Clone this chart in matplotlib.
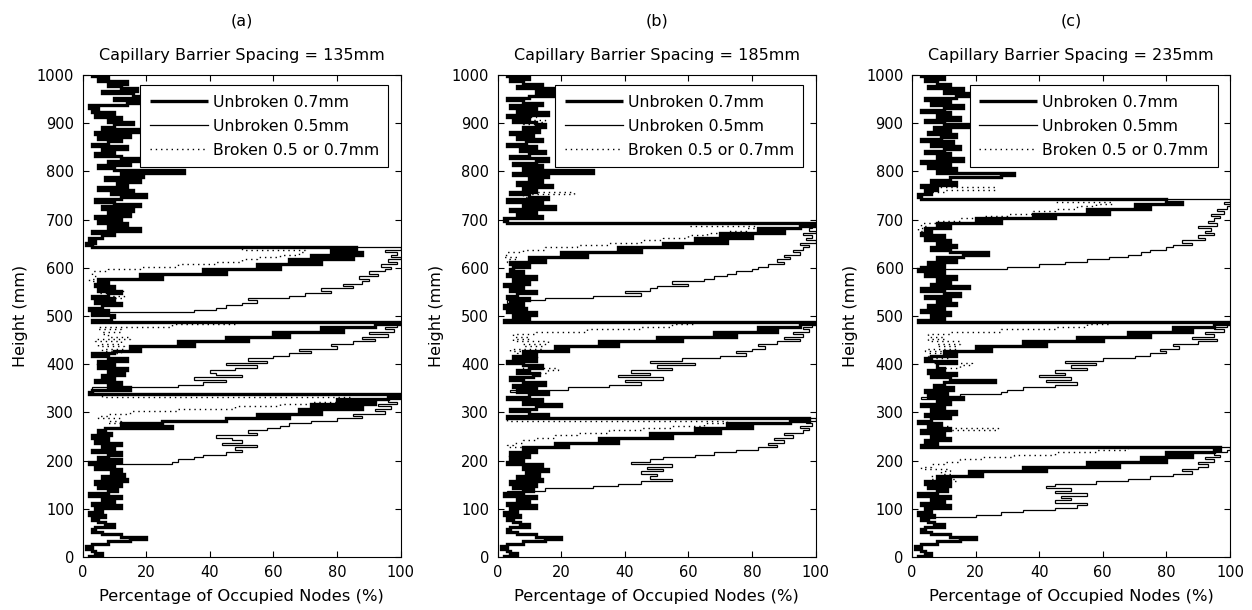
import numpy as np
import matplotlib
matplotlib.use('Agg')
import matplotlib.pyplot as plt

# heights sampled every 5 mm
height = np.arange(0, 1001, 5)

panel_tags = ['(a)', '(b)', '(c)']
spacings = [135, 185, 235]
series_names = ['Unbroken 0.7mm', 'Unbroken 0.5mm', 'Broken 0.5 or 0.7mm']

# background profile (all runs overlap here), 0..1000 mm
bg_a = [2, 6, 4, 3, 1, 3, 8, 15, 20, 12, 6, 3, 4, 10, 7, 5, 3, 7, 2, 6,
        4, 12, 3, 10, 6, 12, 2, 8, 11, 5, 12, 4, 14, 6, 13, 9, 12, 4, 10, 2,
        12, 5, 8, 12, 3, 10, 6, 12, 4, 8, 3, 9, 5, 7, 28, 12, 10, 6, 8, 4,
        3, 5, 4, 8, 6, 10, 3, 6, 2, 3, 15, 8, 12, 4, 10, 6, 13, 8, 14, 5,
        10, 5, 14, 8, 3, 12, 6, 13, 4, 10, 6, 12, 5, 8, 6, 10, 4, 8, 3, 9,
        10, 3, 8, 2, 6, 12, 4, 10, 3, 8, 12, 5, 10, 4, 8, 2, 5, 3, 6, 2,
        4, 3, 6, 2, 5, 3, 4, 2, 3, 3, 1, 4, 2, 6, 10, 3, 18, 8, 14, 5,
        12, 4, 15, 8, 16, 6, 18, 10, 4, 12, 20, 9, 16, 5, 14, 11, 18, 7, 19, 12,
        32, 10, 5, 15, 8, 18, 12, 4, 10, 6, 14, 3, 8, 12, 5, 15, 4, 18, 6, 10,
        16, 8, 12, 4, 10, 3, 5, 2, 14, 18, 10, 20, 16, 6, 17, 12, 8, 14, 5, 8,
        3]
bg_b = [2, 6, 4, 3, 1, 3, 8, 15, 20, 12, 6, 3, 4, 10, 7, 5, 3, 7, 2, 6,
        4, 12, 3, 10, 6, 12, 2, 8, 11, 5, 12, 4, 14, 6, 13, 9, 16, 8, 14, 3,
        8, 4, 10, 6, 12, 5, 8, 3, 10, 5, 7, 4, 9, 3, 6, 2, 5, 3, 3, 16,
        10, 4, 12, 20, 8, 14, 3, 10, 16, 6, 12, 5, 15, 8, 4, 11, 13, 6, 10, 14,
        8, 3, 12, 6, 10, 4, 14, 8, 5, 10, 6, 12, 4, 8, 5, 10, 6, 9, 2, 10,
        5, 12, 3, 9, 2, 8, 4, 10, 3, 6, 12, 4, 8, 2, 10, 5, 12, 3, 8, 4,
        5, 4, 8, 3, 6, 2, 5, 3, 6, 2, 4, 3, 5, 2, 4, 3, 5, 2, 3, 3,
        2, 14, 6, 12, 4, 18, 8, 14, 3, 16, 10, 4, 12, 8, 17, 6, 14, 10, 16, 5,
        30, 8, 14, 5, 12, 16, 4, 10, 15, 7, 12, 3, 9, 14, 6, 11, 4, 13, 8, 15,
        12, 5, 10, 3, 16, 6, 12, 4, 14, 8, 3, 10, 20, 12, 18, 6, 14, 8, 4, 10,
        3]
bg_c = [2, 6, 4, 3, 1, 3, 8, 15, 20, 12, 6, 3, 4, 10, 7, 5, 3, 7, 2, 6,
        4, 12, 3, 10, 6, 12, 2, 8, 11, 5, 12, 4, 14, 6, 13, 9, 12, 4, 10, 2,
        8, 4, 10, 6, 12, 5, 3, 8, 4, 12, 6, 10, 3, 12, 5, 9, 2, 6, 12, 4,
        14, 6, 10, 3, 12, 8, 16, 5, 11, 4, 13, 7, 10, 26, 12, 6, 14, 5, 10, 8,
        8, 14, 4, 12, 6, 10, 3, 8, 5, 10, 6, 12, 4, 8, 5, 10, 6, 9, 2, 10,
        6, 12, 3, 10, 5, 14, 8, 12, 4, 15, 10, 3, 18, 6, 12, 8, 14, 4, 10, 2,
        3, 10, 5, 14, 8, 16, 24, 12, 6, 14, 8, 12, 4, 10, 3, 6, 2, 5, 3, 4,
        5, 3, 6, 2, 4, 3, 4, 2, 6, 3, 2, 6, 4, 8, 3, 14, 6, 12, 28, 32,
        8, 14, 5, 12, 3, 16, 8, 12, 4, 10, 15, 6, 13, 3, 9, 14, 5, 12, 7, 18,
        10, 4, 15, 8, 12, 3, 10, 16, 6, 12, 4, 14, 20, 10, 16, 5, 12, 8, 4, 10,
        3]

# wetting fronts below each barrier: start height (mm) -> values every 5 mm
thick_a = {275: [12, 25, 45, 65, 55, 75, 68, 88, 72, 92, 80, 96, 100],
           425: [10, 18, 15, 35, 30, 52, 45, 65, 60, 82, 75, 92, 100],
           575: [5, 25, 18, 45, 38, 62, 55, 75, 65, 85, 72, 88, 78, 86]}
thin_a = {190: [5, 28, 30, 35, 38, 45, 50, 48, 55, 44, 50, 47, 42, 55, 52,
                58, 62, 65, 72, 80, 88, 85, 95, 92, 97, 93, 99, 96, 100, 98],
          350: [3, 30, 38, 45, 35, 50, 42, 40, 48, 55, 45, 58, 52, 60, 65,
                72, 68, 80, 78, 85, 92, 88, 96, 90, 98, 95, 99, 100],
          505: [5, 35, 42, 45, 50, 55, 52, 65, 70, 78, 75, 85, 82, 88, 90,
                87, 93, 90, 95, 97, 94, 99, 96, 100, 97, 99, 95, 100]}
dot_a = {280: [8, 12, 5, 8, 15, 30, 48, 62, 72, 80, 85],
         440: [5, 12, 4, 15, 8, 6, 12, 5, 28, 48],
         540: [13, 5, 13, 6],
         590: [3, 8, 18, 30, 42, 50, 55, 62, 68, 70, 50]}

thick_b = {215: [4, 12, 8, 22, 18, 38, 32, 55, 48, 70, 62, 80, 72, 92, 98],
           415: [5, 12, 8, 22, 18, 38, 32, 58, 50, 75, 68, 88, 82, 95, 100],
           600: [5, 10, 4, 15, 10, 28, 20, 45, 38, 58, 52, 72, 62, 80, 70,
                 90, 82, 95, 100]}
thin_b = {135: [3, 15, 30, 38, 45, 55, 48, 50, 45, 52, 47, 55, 42, 48, 52,
                62, 68, 75, 82, 88, 85, 90, 87, 93, 90, 96, 98, 95, 99, 97, 100],
          345: [4, 22, 35, 45, 40, 52, 38, 48, 42, 55, 50, 62, 48, 58, 70,
                78, 75, 80, 84, 82, 88, 95, 90, 96, 93, 98, 96, 99, 100],
          530: [3, 15, 30, 45, 40, 48, 50, 60, 55, 65, 68, 72, 75, 80, 82,
                85, 90, 88, 92, 90, 95, 93, 96, 98, 95, 100, 97, 99, 96, 100,
                98, 99, 100]}
dot_b = {225: [8, 3, 5, 8, 12, 18, 25, 35, 45, 55, 65, 72],
         385: [16, 19, 8],
         420: [6, 12, 4, 14, 8, 16, 5, 10, 5, 12, 28, 45, 55, 62],
         630: [3, 8, 15, 25, 35, 45, 52, 60, 66, 72, 78, 82, 60],
         750: [8, 24, 10],
         895: [14, 8, 15, 10, 12]}

thick_c = {155: [4, 12, 8, 22, 18, 42, 35, 65, 55, 80, 72, 88, 80, 95, 97],
           415: [6, 14, 10, 25, 20, 42, 35, 60, 52, 75, 68, 88, 82, 95, 100],
           680: [4, 12, 8, 28, 20, 45, 38, 62, 55, 75, 70, 85, 80]}
thin_c = {80: [3, 20, 28, 35, 45, 52, 55, 45, 50, 47, 55, 45, 50, 42, 45,
               58, 68, 75, 82, 88, 85, 90, 93, 90, 95, 92, 97, 95, 99, 100],
          330: [3, 15, 28, 30, 35, 45, 52, 42, 50, 40, 48, 45, 55, 50, 58,
                48, 60, 70, 75, 80, 78, 84, 82, 90, 96, 88, 95, 92, 98, 95,
                99, 100],
          595: [3, 30, 40, 48, 55, 62, 68, 72, 75, 80, 82, 88, 85, 92, 90,
                95, 92, 94, 90, 96, 93, 95, 97, 94, 98, 96, 99, 100, 98, 100]}
dot_c = {185: [3, 6, 10, 15, 22, 32, 45, 58, 68],
         260: [8, 27, 12],
         395: [15, 19, 6],
         420: [5, 12, 4, 14, 8, 15, 5, 10, 5, 12, 28, 45, 55, 62],
         690: [3, 8, 15, 22, 30, 38, 45, 52, 58, 63, 45],
         760: [10, 26, 8]}


def build(bg, fronts):
    vals = np.array(bg, dtype=float)
    for start, seg in fronts.items():
        i = start // 5
        vals[i:i + len(seg)] = seg
    return vals


def steps(vals):
    # each sample holds over its 5 mm cell -> horizontal/vertical staircase
    xs = np.repeat(vals, 2)
    ys = np.repeat(height, 2) + np.tile([-2.5, 2.5], len(height))
    return xs, np.clip(ys, 0, 1000)


panels = [(bg_a, thick_a, thin_a, dot_a),
          (bg_b, thick_b, thin_b, dot_b),
          (bg_c, thick_c, thin_c, dot_c)]

plt.rcParams['font.family'] = 'DejaVu Sans'

fig = plt.figure(figsize=(12.52, 6.10), dpi=100)
lefts = [0.0659, 0.3974, 0.7284]

for left, tag, sp, (bg, thk, thn, dot) in zip(lefts, panel_tags, spacings, panels):
    ax = fig.add_axes([left, 0.0869, 0.254, 0.790])
    ax.plot(*steps(build(bg, thk)), color='k', lw=2.4, label=series_names[0],
            solid_joinstyle='miter', solid_capstyle='butt')
    ax.plot(*steps(build(bg, thn)), color='k', lw=0.9, label=series_names[1],
            solid_joinstyle='miter')
    ax.plot(*steps(build(bg, dot)), color='k', lw=1.0, ls=(0, (1, 2.8)),
            label=series_names[2])

    ax.set_xlim(0, 100)
    ax.set_ylim(0, 1000)
    ax.set_xticks(range(0, 101, 20))
    ax.set_yticks(range(0, 1001, 100))
    ax.tick_params(direction='in', top=True, right=True, length=4,
                   labelsize=10.5, pad=6)
    for s in ax.spines.values():
        s.set_linewidth(0.8)

    ax.set_xlabel('Percentage of Occupied Nodes (%)', fontsize=11.8, labelpad=6)
    ax.set_ylabel('Height (mm)', fontsize=11.5, labelpad=6)
    ax.set_title('Capillary Barrier Spacing = %dmm' % sp, fontsize=11.5, pad=11)
    ax.text(0.5, 1.113, tag, transform=ax.transAxes, ha='center', va='center',
            fontsize=11.5)

    leg = ax.legend(loc='upper left', bbox_to_anchor=(0.182, 0.979),
                    borderaxespad=0, fancybox=False, edgecolor='k',
                    framealpha=1, fontsize=11.3, handlelength=3.7,
                    handletextpad=0.3, labelspacing=0.58, borderpad=0.6)
    leg.get_frame().set_linewidth(0.8)

fig.savefig('out.png', dpi=100)
